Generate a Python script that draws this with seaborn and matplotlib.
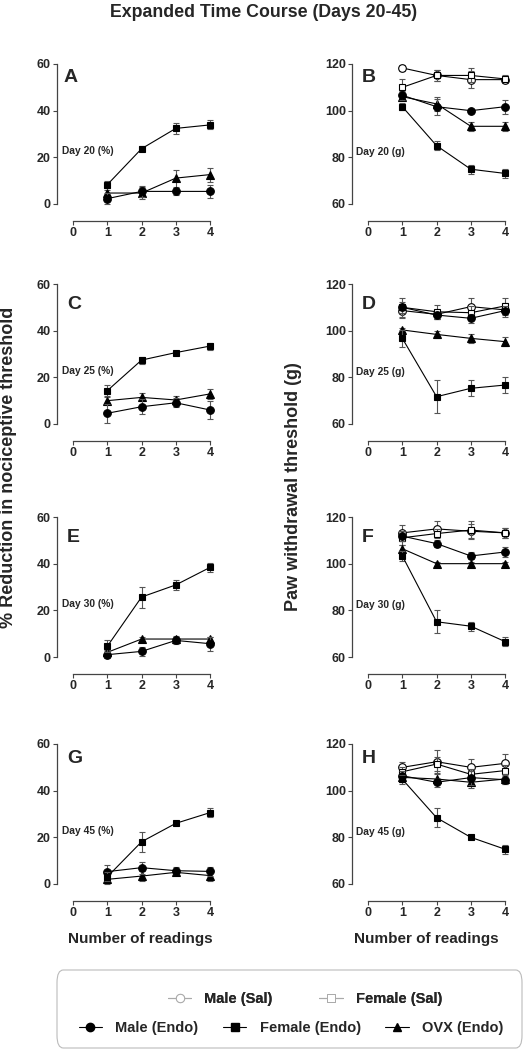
import numpy as np
import matplotlib
matplotlib.use('Agg')
import matplotlib.pyplot as plt
from matplotlib.lines import Line2D
from matplotlib.patches import FancyBboxPatch
import seaborn as sns

sns.set_style('ticks')
plt.rcParams['font.family'] = ['Liberation Sans', 'DejaVu Sans']
plt.rcParams['font.weight'] = 'bold'

# datos
readings = [1, 2, 3, 4]
pct_days = ['Day 20 (%)', 'Day 25 (%)', 'Day 30 (%)', 'Day 45 (%)']
g_days = ['Day 20 (g)', 'Day 25 (g)', 'Day 30 (g)', 'Day 45 (g)']
pct_letters = ['A', 'C', 'E', 'G']
g_letters = ['B', 'D', 'F', 'H']

# % reduction (filas: dia 20, 25, 30, 45)
pct_male_endo = [[2.3, 5.4, 5.4, 5.4], [4.6, 7.4, 9.1, 6.0],
                 [1.0, 2.4, 7.1, 5.7], [5.3, 7.0, 5.7, 5.4]]
pct_male_endo_sem = [[2.5, 2.5, 1.5, 2.7], [4.0, 3.3, 2.0, 4.0],
                     [1.5, 2.0, 1.5, 3.0], [3.0, 2.5, 1.5, 2.0]]
pct_female_endo = [[8.3, 23.7, 32.4, 33.9], [14.3, 27.4, 30.6, 33.4],
                   [4.6, 25.7, 30.9, 38.4], [3.1, 18.1, 26.0, 30.6]]
pct_female_endo_sem = [[1.5, 1.0, 2.2, 1.9], [2.5, 1.5, 0.8, 1.5],
                       [2.5, 4.5, 2.3, 2.0], [2.0, 4.3, 0.8, 2.0]]
pct_ovx_endo = [[4.7, 4.7, 11.1, 12.6], [10.0, 11.4, 10.3, 12.9],
                [2.0, 7.7, 7.7, 7.7], [2.0, 3.4, 5.0, 3.6]]
pct_ovx_endo_sem = [[1.5, 2.5, 3.6, 3.0], [1.5, 1.7, 1.5, 2.0],
                    [1.0, 0.8, 1.5, 1.0], [2.0, 2.0, 1.0, 2.5]]

# paw withdrawal threshold (g)
g_male_sal = [[118.3, 115.1, 113.3, 113.3], [108.6, 107.0, 110.3, 108.9],
              [113.2, 114.9, 113.9, 113.2], [110.0, 112.4, 110.0, 111.7]]
g_male_sal_sem = [[1.2, 2.5, 3.5, 1.5], [3.0, 2.0, 3.5, 3.0],
                  [3.5, 3.5, 3.0, 2.0], [2.5, 5.0, 3.5, 4.0]]
g_female_sal = [[110.0, 115.1, 115.1, 113.6], [110.0, 108.1, 107.7, 110.6],
                [111.1, 112.9, 114.4, 113.2], [108.1, 111.4, 107.0, 108.6]]
g_female_sal_sem = [[3.5, 2.5, 3.0, 1.5], [4.0, 3.0, 3.0, 3.5],
                    [3.0, 2.0, 4.0, 2.0], [2.0, 3.0, 2.5, 2.5]]
g_male_endo = [[106.6, 101.7, 100.0, 101.7], [110.0, 106.7, 105.3, 108.6],
               [111.8, 108.6, 103.3, 105.0], [106.4, 103.6, 105.6, 104.7]]
g_male_endo_sem = [[2.0, 3.5, 0.8, 3.0], [2.5, 1.5, 2.0, 2.0],
                   [2.0, 1.5, 1.5, 2.0], [2.0, 2.0, 3.0, 2.0]]
g_female_endo = [[101.7, 85.0, 74.9, 73.1], [96.7, 71.7, 75.3, 76.7],
                 [103.3, 75.1, 73.2, 66.6], [104.9, 88.4, 80.0, 74.9]]
g_female_endo_sem = [[1.5, 2.0, 2.0, 2.0], [3.5, 7.0, 3.5, 3.3],
                     [2.0, 5.0, 2.0, 2.0], [2.0, 4.0, 0.8, 2.0]]
g_ovx_endo = [[106.0, 102.9, 93.3, 93.3], [100.3, 98.4, 96.7, 95.3],
              [106.4, 100.0, 100.0, 100.0], [105.7, 105.0, 103.6, 105.0]]
g_ovx_endo_sem = [[1.0, 3.0, 2.0, 2.0], [0.8, 1.5, 2.0, 2.0],
                  [1.5, 0.8, 0.8, 0.8], [2.0, 2.0, 2.5, 2.0]]

W, H = 525, 1050
fig = plt.figure(figsize=(W / 100, H / 100), dpi=100)

row_y0 = [204, 424, 657, 884]  # fila en pixeles del limite inferior
letter_y = [0.87, 0.82, 0.82, 0.865]
axis_col = '#444444'


def draw_series(ax, y, e, marker, ms, open_marker=False):
    mfc = 'white' if open_marker else 'black'
    ax.errorbar(readings, y, yerr=e, fmt='none', ecolor='#555555',
                elinewidth=0.8, capsize=2.5, capthick=0.8, clip_on=False)
    sns.lineplot(x=readings, y=y, ax=ax, color='black', lw=0.8,
                 marker=marker, markersize=ms, markerfacecolor=mfc,
                 markeredgecolor='black', markeredgewidth=0.8,
                 clip_on=False, legend=False)


def style_axis(ax, ylo, yhi):
    ax.set_xlim(-0.47, 4.1)
    ax.set_ylim(ylo, yhi)
    ax.set_xticks([0, 1, 2, 3, 4])
    ax.set_yticks(np.arange(ylo, yhi + 1, 20))
    sns.despine(ax=ax)
    ax.spines['bottom'].set_position(('outward', 12.2))
    ax.spines['bottom'].set_bounds(0, 4)
    ax.spines['left'].set_bounds(ylo, yhi)
    for s in ['left', 'bottom']:
        ax.spines[s].set_color(axis_col)
        ax.spines[s].set_linewidth(0.9)
    ax.tick_params(direction='out', length=3, width=0.8, color=axis_col,
                   labelsize=9, pad=1.5)
    ax.set_xlabel('')
    ax.set_ylabel('')
    for t in ax.get_xticklabels() + ax.get_yticklabels():
        t.set_fontweight('bold')


for i in range(4):
    bottom = 1 - row_y0[i] / H
    # panel izquierdo (%)
    ax = fig.add_axes([57 / W, bottom, 156.5 / W, 140 / H])
    draw_series(ax, pct_ovx_endo[i], pct_ovx_endo_sem[i], '^', 5.5)
    draw_series(ax, pct_male_endo[i], pct_male_endo_sem[i], 'o', 5.5)
    draw_series(ax, pct_female_endo[i], pct_female_endo_sem[i], 's', 5)
    style_axis(ax, 0, 60)
    ax.text(0.04 if i == 0 else 0.065, letter_y[i], pct_letters[i],
            transform=ax.transAxes, fontsize=14, fontweight='bold',
            ha='left', va='baseline')
    ax.text(0.03, 0.355, pct_days[i], transform=ax.transAxes, fontsize=7.4,
            fontweight='bold', ha='left', va='baseline')

    # panel derecho (g)
    ax = fig.add_axes([352 / W, bottom, 156.5 / W, 140 / H])
    draw_series(ax, g_male_sal[i], g_male_sal_sem[i], 'o', 5.5, True)
    draw_series(ax, g_female_sal[i], g_female_sal_sem[i], 's', 5, True)
    draw_series(ax, g_ovx_endo[i], g_ovx_endo_sem[i], '^', 5.5)
    draw_series(ax, g_male_endo[i], g_male_endo_sem[i], 'o', 5.5)
    draw_series(ax, g_female_endo[i], g_female_endo_sem[i], 's', 5)
    style_axis(ax, 60, 120)
    ax.text(0.065, letter_y[i], g_letters[i], transform=ax.transAxes,
            fontsize=14, fontweight='bold', ha='left', va='baseline')
    ax.text(0.026, 0.35, g_days[i], transform=ax.transAxes, fontsize=7.4,
            fontweight='bold', ha='left', va='baseline')

# textos generales
fig.text(264 / W, 1 - 17 / H, 'Expanded Time Course (Days 20-45)',
         fontsize=12.8, fontweight='bold', ha='center', va='baseline')
fig.text(9 / W, 1 - 467 / H, '% Reduction in nociceptive threshold',
         rotation=90, fontsize=13, fontweight='bold', ha='center', va='center')
fig.text(293 / W, 1 - 487 / H, 'Paw withdrawal threshold (g)',
         rotation=90, fontsize=13, fontweight='bold', ha='center', va='center')
for xc in [140, 426]:
    fig.text(xc / W, 1 - 943 / H, 'Number of readings', fontsize=11,
             fontweight='bold', ha='center', va='baseline')

# leyenda
box = FancyBboxPatch((57 / W, 2 / H), 465 / W, 78 / H,
                     boxstyle='round,pad=0,rounding_size=0.012',
                     transform=fig.transFigure, facecolor='white',
                     edgecolor='#bbbbbb', linewidth=0.8)
fig.patches.append(box)

sal_handles = [
    Line2D([], [], color='#aaaaaa', lw=0.8, marker='o', markersize=6,
           markerfacecolor='white', markeredgecolor='#aaaaaa', markeredgewidth=0.7),
    Line2D([], [], color='#aaaaaa', lw=0.8, marker='s', markersize=6,
           markerfacecolor='white', markeredgecolor='#aaaaaa', markeredgewidth=0.7),
]
endo_handles = [
    Line2D([], [], color='black', lw=0.8, marker='o', markersize=6),
    Line2D([], [], color='black', lw=0.8, marker='s', markersize=6),
    Line2D([], [], color='black', lw=0.8, marker='^', markersize=6),
]
leg_font = {'weight': 'bold', 'size': 10.5}
leg1 = fig.legend(sal_handles, ['Male (Sal)', 'Female (Sal)'], ncol=2,
                  loc='center', bbox_to_anchor=(305 / W, 1 - 999 / H),
                  frameon=False, prop=leg_font, handlelength=1.6,
                  handletextpad=0.9, columnspacing=3.2)
fig.add_artist(leg1)
fig.legend(endo_handles, ['Male (Endo)', 'Female (Endo)', 'OVX (Endo)'], ncol=3,
           loc='center', bbox_to_anchor=(291 / W, 1 - 1028 / H),
           frameon=False, prop=leg_font, handlelength=1.6,
           handletextpad=0.9, columnspacing=1.7)

fig.savefig('out.png', dpi=100)
